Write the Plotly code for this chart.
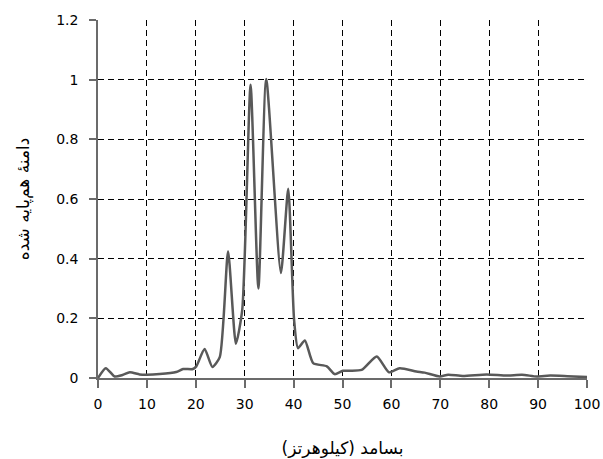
import plotly.graph_objects as go

freq = [0, 1.6, 3.4, 5.0, 6.5, 8.5, 10, 12.6, 16, 17.4, 19.4, 20.1, 21.8, 23.4, 24.9, 26.6,
        28.2, 29.5, 31.2, 32.8, 34.4, 37.4, 38.9, 40.1, 40.9, 42.3, 44.0, 46.8, 48.4,
        50.1, 53.9, 57.0, 59.5, 61.7, 65.1, 66.8, 69.9, 71.6, 74.6, 79.5, 83.6, 86.7,
        89.7, 92.5, 96, 100]
amp = [0.0, 0.033, 0.005, 0.010, 0.019, 0.012, 0.011, 0.013, 0.020, 0.030, 0.030, 0.039,
       0.097, 0.037, 0.070, 0.424, 0.115, 0.229, 0.983, 0.300, 1.002, 0.352, 0.634, 0.195,
       0.100, 0.126, 0.050, 0.039, 0.013, 0.024, 0.027, 0.072, 0.019, 0.033, 0.022, 0.018,
       0.005, 0.011, 0.007, 0.012, 0.008, 0.011, 0.005, 0.008, 0.006, 0.003]

xticks = [0, 10, 20, 30, 40, 50, 60, 70, 80, 90, 100]
yticks = [0, 0.2, 0.4, 0.6, 0.8, 1, 1.2]
ytick_text = ["0", "0.2", "0.4", "0.6", "0.8", "1", "1.2"]

fig = go.Figure()
fig.add_trace(go.Scatter(x=freq, y=amp, mode="lines",
                         line=dict(color="#595959", width=2.5, shape="spline", smoothing=0.6),
                         showlegend=False, cliponaxis=False))

font = dict(family="DejaVu Sans, Verdana, sans-serif", size=14, color="#000000")
axcol = "#6b6b6b"
fig.update_layout(
    width=603, height=459,
    margin=dict(l=98, r=16, t=20, b=81, autoexpand=False),
    paper_bgcolor="white", plot_bgcolor="white",
    font=font,
    xaxis=dict(range=[0, 100], tickvals=xticks, ticktext=[str(v) for v in xticks],
               automargin=False, ticklabelstandoff=4,
               showgrid=False, zeroline=False, showline=True, linecolor=axcol, linewidth=1.5,
               ticks="outside", ticklen=8, tickcolor=axcol, tickwidth=1.5,
               minor=dict(tickvals=xticks[1:-1], showgrid=True, gridcolor="#000000",
                          griddash="6px,4px", gridwidth=1, ticks=""),
               title=dict(text="بسامد (کیلوهرتز)", font=dict(family="DejaVu Sans", size=17),
                          standoff=32)),
    yaxis=dict(range=[0, 1.2], tickvals=yticks, ticktext=ytick_text,
               automargin=False, ticklabelstandoff=8,
               showgrid=False, zeroline=False, showline=True, linecolor=axcol, linewidth=1.5,
               ticks="outside", ticklen=7, tickcolor=axcol, tickwidth=1.5,
               minor=dict(tickvals=yticks[1:-1], showgrid=True, gridcolor="#000000",
                          griddash="6px,4px", gridwidth=1, ticks=""),
               title=dict(text="دامنهٔ هم‌پایه شده", font=dict(family="DejaVu Sans", size=17),
                          standoff=22)),
)

fig.write_html("out.html")
